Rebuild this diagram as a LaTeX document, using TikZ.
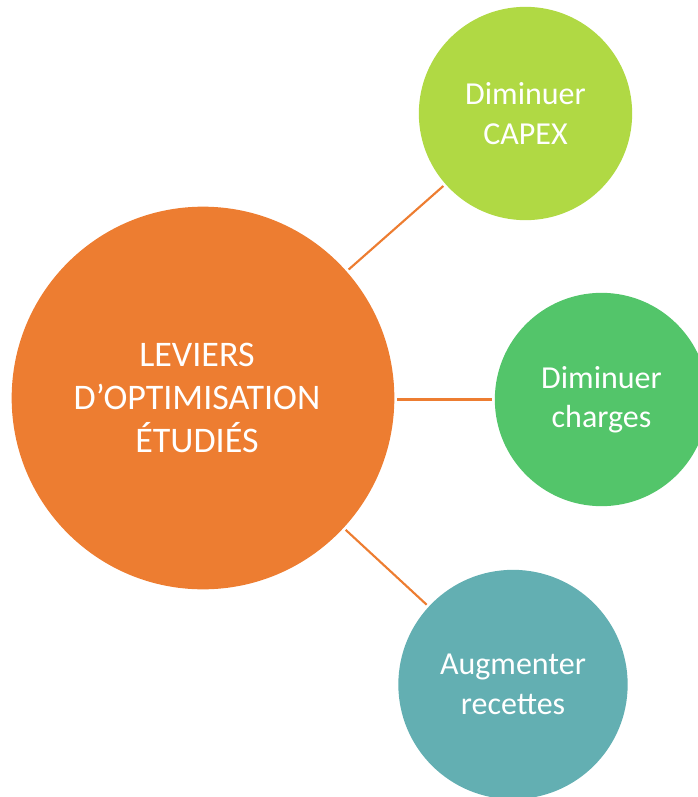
\documentclass[tikz,border=0pt]{standalone}
\usepackage{fontspec}
\setmainfont{Carlito}
\usetikzlibrary{positioning}

\definecolor{leverorange}{HTML}{ED7D31}
\definecolor{capexgreen}{HTML}{B0D944}
\definecolor{chargegreen}{HTML}{53C56A}
\definecolor{recetteteal}{HTML}{63AFB2}

\begin{document}
\begin{tikzpicture}[
    x=0.75pt, y=-0.75pt,
    bubble/.style={circle, draw=none, text=white, align=center, inner sep=0pt, outer sep=2.2pt, minimum size=160pt, font=\fontsize{24}{29.5}\selectfont},
    mainbubble/.style={bubble, fill=leverorange, minimum size=287pt},
    maintext/.style={text=white, align=center, xshift=-4.5pt, font=\fontsize{27}{32.5}\selectfont},
    capexbubble/.style={bubble, fill=capexgreen},
    chargebubble/.style={bubble, fill=chargegreen},
    recettebubble/.style={bubble, fill=recetteteal, minimum size=172pt},
    link/.style={draw=leverorange, line width=1.6pt}
]
\useasboundingbox (0,0) rectangle (698,797);

% centre
\node[mainbubble, label={[maintext]center:LEVIERS\\D’OPTIMISATION\\ÉTUDIÉS}] (leviers) at (203,398) {};

% leviers
\node[capexbubble] (capex) at (525.5,113.5) {Diminuer\\CAPEX};
\node[chargebubble] (charges) at (601.5,399.5) {Diminuer\\charges};
\node[recettebubble] (recettes) at (513,684.5) {Augmenter\\recettes};

% liens
\draw[link] (leviers) -- (capex);
\draw[link] (leviers.east |- charges.west) -- (charges.west);
\draw[link] (leviers) -- (recettes);

\end{tikzpicture}
\end{document}
